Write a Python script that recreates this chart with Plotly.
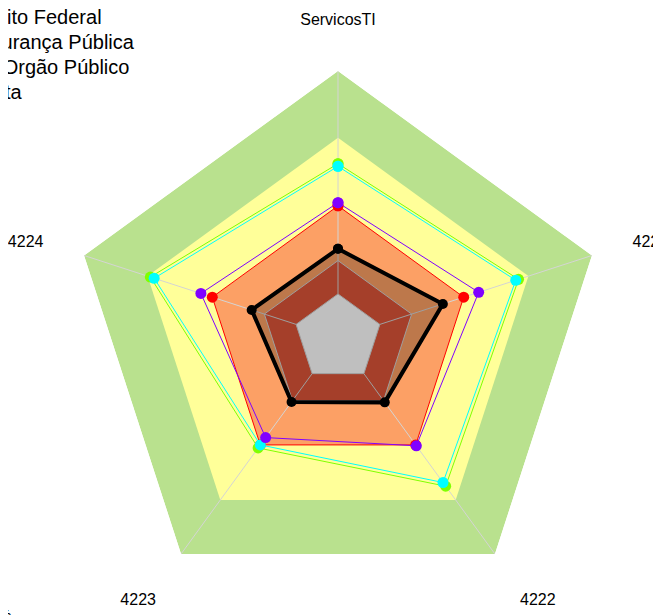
import plotly.graph_objects as go

# ---- data ----
categories = ["ServicosTI", "4221", "4222", "4223", "4224"]
band_limits = [100, 75, 49.5, 29, 16.5]
band_colors = ["#B9E18E", "#FFFF99", "#FCA065", "#DC5538", "#FFFFFF"]

serie_orgao = [33.4, 41.3, 29.8, 29.6, 34.0]      # black
serie_red = [49.5, 49.5, 49.5, 49.5, 49.5]
serie_lime = [65.3, 71.1, 68.6, 50.9, 73.9]
serie_cyan = [64.3, 70.0, 66.9, 49.5, 72.4]
serie_purple = [50.7, 55.4, 49.9, 46.1, 54.0]

legend_names = ["Distrito Federal", "Segurança Pública", "Um Orgão Público", "Oferta"]
corner_text = "100%"

W, H = 661, 615
OFF = 8  # page offset of the figure (body margin)
L, T, PW, PH = 63, 63, 534, 534
R, B = W - L - PW, H - T - PH


def px_x(px):
    return (px - OFF - L) / PW


def px_y(py):
    return (H - B - (py - OFF)) / PH


def closed(vals):
    return list(vals) + [vals[0]]


theta_c = closed(categories)

fig = go.Figure()

# background bands
for lim, col in zip(band_limits, band_colors):
    fig.add_trace(go.Scatterpolar(
        r=closed([lim] * len(categories)), theta=theta_c, mode="lines",
        fill="toself", fillcolor=col, line=dict(width=0, color=col),
        hoverinfo="skip", showlegend=False))

# spokes and inner grid rings
grid_col = "rgb(212,212,212)"
for cat in categories:
    fig.add_trace(go.Scatterpolar(
        r=[band_limits[-1], band_limits[0]], theta=[cat, cat], mode="lines",
        line=dict(width=1, color=grid_col), hoverinfo="skip", showlegend=False))
for lim in band_limits[-2:]:
    fig.add_trace(go.Scatterpolar(
        r=closed([lim] * len(categories)), theta=theta_c, mode="lines",
        line=dict(width=1, color=grid_col), hoverinfo="skip", showlegend=False))

# series
fig.add_trace(go.Scatterpolar(
    r=closed(serie_orgao), theta=theta_c, mode="lines+markers",
    fill="toself", fillcolor="rgba(0,0,0,0.25)",
    line=dict(color="black", width=4), marker=dict(color="black", size=10),
    name="Órgão", showlegend=False))

for vals, col, nm in [(serie_red, "#FF0000", legend_names[0]),
                      (serie_lime, "#80FF00", legend_names[1]),
                      (serie_cyan, "#00FFFF", legend_names[2]),
                      (serie_purple, "#8000FF", legend_names[3])]:
    fig.add_trace(go.Scatterpolar(
        r=closed(vals), theta=theta_c, mode="lines+markers",
        line=dict(color=col, width=1), marker=dict(color=col, size=11),
        name=nm, showlegend=False))

annotations = []
for i, nm in enumerate(legend_names):
    annotations.append(dict(
        x=px_x(-36), y=px_y(17 + 25 * i), xref="paper", yref="paper",
        xanchor="left", yanchor="middle", text=nm, showarrow=False,
        font=dict(size=20, color="black", family="Liberation Sans, Arial, sans-serif")))
annotations.append(dict(
    x=px_x(13), y=px_y(604), xref="paper", yref="paper",
    xanchor="right", yanchor="top", text=corner_text, showarrow=False,
    font=dict(size=15, color="black", family="Liberation Sans, Arial, sans-serif")))

fig.update_layout(
    width=W, height=H,
    margin=dict(l=L, r=R, t=T, b=B, pad=0, autoexpand=False),
    paper_bgcolor="white", plot_bgcolor="white",
    showlegend=False,
    font=dict(family="Liberation Sans, Arial, sans-serif", size=16, color="black"),
    polar=dict(
        bgcolor="white",
        gridshape="linear",
        domain=dict(x=[0, 1], y=[0, 1]),
        radialaxis=dict(range=[0, 100], visible=False, showgrid=False),
        angularaxis=dict(
            type="category", categoryarray=categories, categoryorder="array",
            direction="clockwise", rotation=90,
            showgrid=False, showline=False,
            ticks="outside", ticklen=39, tickcolor="rgba(0,0,0,0)",
            tickfont=dict(size=16, color="black"),
        ),
    ),
    annotations=annotations,
)

fig.write_html("out.html")
